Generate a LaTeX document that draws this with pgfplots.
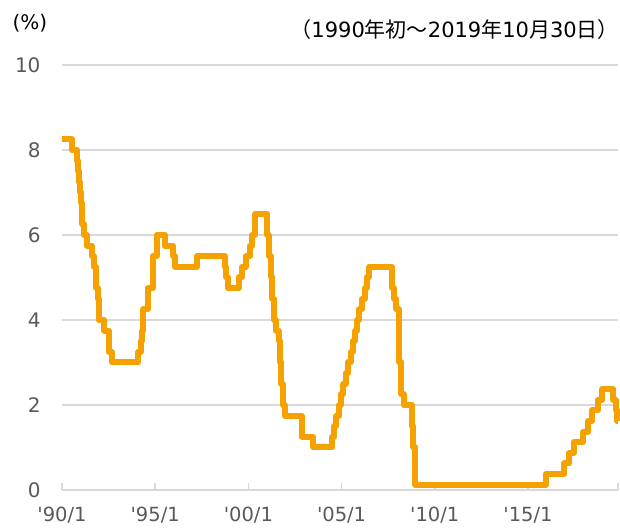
\documentclass[border=0pt]{standalone}
\usepackage{pgfplots}
\pgfplotsset{compat=1.18}
\usepackage{fontspec}
\setmainfont{DejaVu Sans}
\newfontfamily\lab{DejaVu Sans}
\newfontfamily\cjk{Noto Sans CJK JP}
\definecolor{line}{RGB}{245,162,0}
\definecolor{grd}{RGB}{217,217,217}
\definecolor{txt}{RGB}{89,89,89}
\begin{document}
\begin{tikzpicture}
\begin{axis}[
  at={(0,0)}, anchor=south west,
  scale only axis, width=556bp, height=425bp,
  xmin=1990, xmax=2019.83, ymin=0, ymax=10,
  axis x line*=bottom, axis y line*=left,
  y axis line style={draw=none},
  x axis line style={grd, line width=1.5bp, -},
  xtick={1990,1995,2000,2005,2010,2015},
  xticklabels={'90/1,'95/1,'00/1,'05/1,'10/1,'15/1},
  extra x ticks={2019.83}, extra x tick labels={},
  extra x tick style={tick align=inside, major tick length=7bp},
  tick align=inside, major tick length=7bp,
  xtick style={grd, line width=1.5bp},
  ytick style={draw=none},
  xticklabel style={font=\lab\fontsize{19.5bp}{21bp}\selectfont, text=txt, yshift=-14bp},
  ytick={0,2,4,6,8,10},
  yticklabel style={font=\lab\fontsize{20bp}{22bp}\selectfont, text=txt, anchor=east, xshift=-18bp},
  /pgf/number format/assume math mode=true,
  ymajorgrids, grid style={grd, line width=1.5bp},
  clip=false,
]
\addplot[const plot, line, line width=6bp, line join=round] coordinates {
(1990.00,8.25) (1990.53,8.00) (1990.82,7.75) (1990.87,7.50) (1990.93,7.25) (1990.96,7.00)
(1991.02,6.75) (1991.08,6.25) (1991.18,6.00) (1991.33,5.75) (1991.59,5.50) (1991.70,5.25)
(1991.83,5.00) (1991.85,4.75) (1991.93,4.50) (1991.97,4.00) (1992.27,3.75) (1992.50,3.25)
(1992.68,3.00) (1994.09,3.25) (1994.22,3.50) (1994.29,3.75) (1994.37,4.25) (1994.62,4.75)
(1994.87,5.50) (1995.08,6.00) (1995.51,5.75) (1995.97,5.50) (1996.08,5.25) (1997.23,5.50)
(1998.74,5.25) (1998.79,5.00) (1998.88,4.75) (1999.49,5.00) (1999.64,5.25) (1999.87,5.50)
(2000.09,5.75) (2000.22,6.00) (2000.37,6.50) (2001.01,6.00) (2001.08,5.50) (2001.21,5.00)
(2001.29,4.50) (2001.37,4.00) (2001.49,3.75) (2001.64,3.50) (2001.71,3.00) (2001.75,2.50)
(2001.85,2.00) (2001.94,1.75) (2002.85,1.25) (2003.48,1.00) (2004.49,1.25) (2004.61,1.50)
(2004.72,1.75) (2004.86,2.00) (2004.95,2.25) (2005.09,2.50) (2005.22,2.75) (2005.34,3.00)
(2005.49,3.25) (2005.61,3.50) (2005.72,3.75) (2005.83,4.00) (2005.95,4.25) (2006.08,4.50)
(2006.24,4.75) (2006.36,5.00) (2006.49,5.25) (2007.71,4.75) (2007.83,4.50) (2007.94,4.25)
(2008.06,3.50) (2008.08,3.00) (2008.21,2.25) (2008.33,2.00) (2008.77,1.50) (2008.82,1.00)
(2008.96,0.125) (2015.96,0.375) (2016.95,0.625) (2017.20,0.875) (2017.45,1.125) (2017.95,1.375)
(2018.22,1.625) (2018.45,1.875) (2018.73,2.125) (2018.97,2.375) (2019.58,2.125) (2019.71,1.875)
(2019.79,1.625) (2019.83,1.625)
};
\end{axis}
\node[anchor=center, text=black, font=\lab\fontsize{20bp}{22bp}\selectfont, inner sep=0pt] at (-32bp,467bp) {(\%)};
\node[anchor=east, text=black, font=\fontsize{21bp}{23bp}\selectfont, inner sep=0pt] at (557bp,460bp) {{\cjk （}{\lab 1990}{\cjk 年初～}{\lab 2019}{\cjk 年}{\lab 10}{\cjk 月}{\lab 30}{\cjk 日）}};
\pgfresetboundingbox
\useasboundingbox (-62bp,-40bp) rectangle (558bp,490bp);
\end{tikzpicture}
\end{document}
